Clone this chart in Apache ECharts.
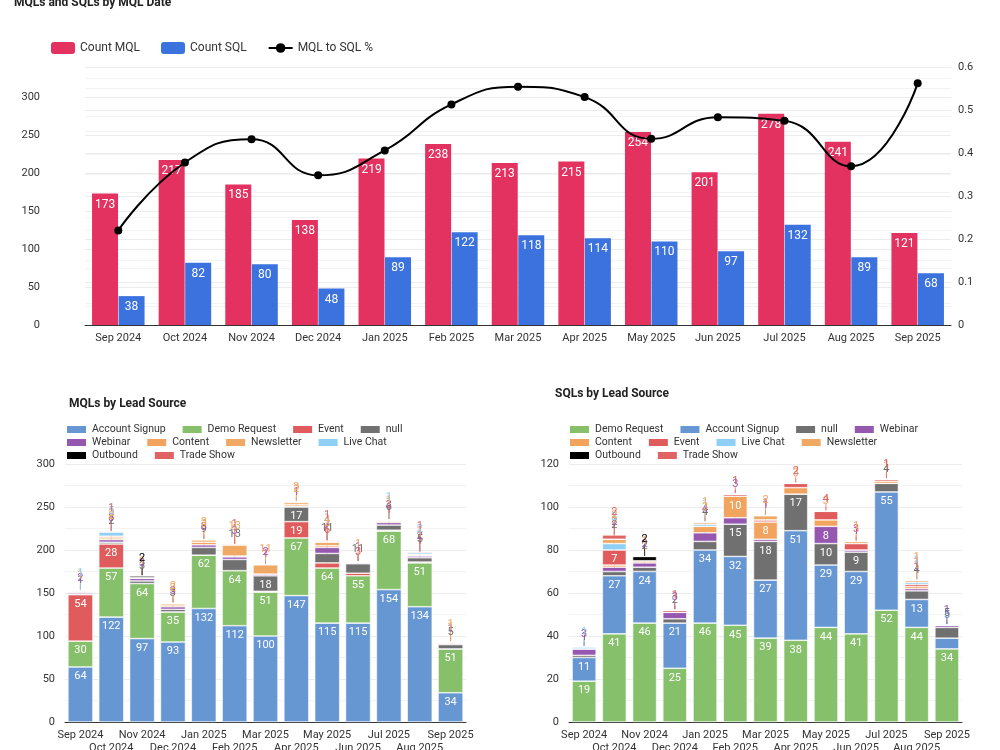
<!DOCTYPE html>
<html>
<head>
<meta charset="utf-8">
<script src="https://cdn.jsdelivr.net/npm/echarts@6/dist/echarts.min.js"></script>
<style>
  html, body { margin: 0; padding: 0; background: #fff; }
  #chart { width: 1000px; height: 750px; }
</style>
</head>
<body>
<div id="chart"></div>
<script>
// 月份
const months = ['Sep 2024', 'Oct 2024', 'Nov 2024', 'Dec 2024', 'Jan 2025', 'Feb 2025', 'Mar 2025',
  'Apr 2025', 'May 2025', 'Jun 2025', 'Jul 2025', 'Aug 2025', 'Sep 2025'];

// 上图
const countMql = [173, 217, 185, 138, 219, 238, 213, 215, 254, 201, 278, 241, 121];
const countSql = [38, 82, 80, 48, 89, 122, 118, 114, 110, 97, 132, 89, 68];
const mqlToSql = [0.22, 0.378, 0.432, 0.348, 0.406, 0.513, 0.554, 0.53, 0.433, 0.483, 0.475, 0.369, 0.562];

// 左下: MQLs by Lead Source
const mqlAccountSignup = [64, 122, 97, 93, 132, 112, 100, 147, 115, 115, 154, 134, 34];
const mqlDemoRequest = [30, 57, 64, 35, 62, 64, 51, 67, 64, 55, 68, 51, 51];
const mqlEvent = [54, 28, 0, 0, 0, 0, 1, 19, 6, 3, 1, 1, 0];
const mqlNull = [1, 2, 3, 3, 9, 13, 18, 17, 11, 11, 6, 5, 5];
const mqlWebinar = [2, 3, 3, 3, 3, 3, 2, 1, 7, 1, 3, 2, 1];
const mqlContent = [0, 2, 0, 2, 3, 1, 0, 2, 2, 1, 1, 1, 1];
const mqlNewsletter = [1, 2, 1, 2, 3, 13, 11, 3, 4, 0, 1, 1, 1];
const mqlLiveChat = [1, 5, 0, 0, 0, 0, 0, 0, 1, 0, 1, 2, 0];
const mqlOutbound = [0, 0, 2, 0, 0, 0, 0, 0, 0, 0, 0, 0, 0];
const mqlTradeShow = [0, 1, 0, 0, 0, 1, 0, 0, 1, 0, 0, 1, 0];

// 右下: SQLs by Lead Source
const sqlDemoRequest = [19, 41, 46, 25, 46, 45, 39, 38, 44, 41, 52, 44, 34];
const sqlAccountSignup = [11, 27, 24, 21, 34, 32, 27, 51, 29, 29, 55, 13, 5];
const sqlNull = [1, 2, 2, 2, 4, 15, 18, 17, 10, 9, 4, 4, 5];
const sqlWebinar = [3, 2, 2, 3, 4, 3, 1, 0, 8, 1, 0, 1, 1];
const sqlContent = [0, 1, 1, 0, 3, 10, 8, 3, 3, 0, 1, 1, 0];
const sqlEvent = [0, 7, 0, 1, 0, 1, 1, 2, 4, 3, 1, 1, 0];
const sqlLiveChat = [1, 3, 0, 0, 1, 0, 0, 0, 0, 0, 0, 1, 0];
const sqlNewsletter = [0, 2, 0, 0, 1, 0, 2, 0, 0, 1, 0, 1, 0];
const sqlOutbound = [0, 0, 2, 0, 0, 0, 0, 0, 0, 0, 0, 0, 0];
const sqlTradeShow = [0, 2, 0, 0, 0, 0, 0, 0, 0, 0, 0, 0, 0];

const colors = {
  'Account Signup': '#6797d3',
  'Demo Request': '#86c06b',
  'Event': '#e05c5c',
  'null': '#707070',
  'Webinar': '#9657b1',
  'Content': '#f2a35e',
  'Newsletter': '#f0a865',
  'Live Chat': '#8fcff5',
  'Outbound': '#000000',
  'Trade Show': '#e06464'
};

const mqlSources = [
  ['Account Signup', mqlAccountSignup], ['Demo Request', mqlDemoRequest], ['Event', mqlEvent],
  ['null', mqlNull], ['Webinar', mqlWebinar], ['Content', mqlContent], ['Newsletter', mqlNewsletter],
  ['Live Chat', mqlLiveChat], ['Outbound', mqlOutbound], ['Trade Show', mqlTradeShow]
];
const sqlSources = [
  ['Demo Request', sqlDemoRequest], ['Account Signup', sqlAccountSignup], ['null', sqlNull],
  ['Webinar', sqlWebinar], ['Content', sqlContent], ['Event', sqlEvent], ['Live Chat', sqlLiveChat],
  ['Newsletter', sqlNewsletter], ['Outbound', sqlOutbound], ['Trade Show', sqlTradeShow]
];

const font = 'Roboto, "Noto Sans", sans-serif';
const gridColor = '#ececec';

const chart = echarts.init(document.getElementById('chart'));

// x 轴下标 axisIdx, y 轴下标 axisIdx + 1 (上图有两个 y 轴)
// 小数值的标签放到柱子上方, 带引导线
function stackSeries(list, axisIdx, stack, minShow, barWidth) {
  const totals = months.map((m, i) => list.reduce((s, item) => s + item[1][i], 0));
  return list.map(([name, data], srcIdx) => {
    const isSmall = v => v > 0 && v < minShow;
    const rank = months.map((m, i) =>
      list.slice(0, srcIdx).filter(item => isSmall(item[1][i])).length);
    return {
      name: name,
      type: 'bar',
      stack: stack,
      xAxisIndex: axisIdx,
      yAxisIndex: axisIdx + 1,
      barWidth: barWidth,
      data: data.map(v => isSmall(v) ? {
        value: v,
        label: { color: colors[name] },
        labelLine: { show: true, lineStyle: { color: colors[name], width: 1, opacity: 0.7 } }
      } : v),
      itemStyle: { color: colors[name], borderColor: '#fff', borderWidth: 0.6 },
      label: {
        show: true,
        position: 'insideTop',
        distance: 4,
        color: '#fff',
        fontSize: 11,
        fontFamily: font,
        formatter: p => (p.value > 0 ? p.value : '')
      },
      labelLayout: function (p) {
        const v = data[p.dataIndex];
        if (!isSmall(v)) return {};
        const top = chart.convertToPixel({ xAxisIndex: axisIdx, yAxisIndex: axisIdx + 1 },
          [p.dataIndex, totals[p.dataIndex]]);
        const cx = p.rect.x + p.rect.width / 2;
        const ly = top[1] - 10 - rank[p.dataIndex] * 2.5;
        const sy = p.rect.y + p.rect.height / 2;
        return {
          x: cx,
          y: ly,
          align: 'center',
          verticalAlign: 'middle',
          labelLinePoints: [[cx, ly + 5], [cx, sy], [cx, sy]]
        };
      }
    };
  });
}

function bottomXAxis(gridIndex) {
  return {
    type: 'category',
    gridIndex: gridIndex,
    data: months,
    axisLine: { lineStyle: { color: '#333', width: 1 } },
    axisTick: { show: false },
    axisLabel: {
      interval: 0,
      color: '#333',
      fontSize: 11,
      fontFamily: font,
      margin: 7,
      lineHeight: 13,
      formatter: (v, i) => (i % 2 ? '\n' + v : v)
    }
  };
}

function smallLegend(data, left, top) {
  return {
    data: data,
    left: left,
    top: top,
    itemWidth: 21,
    itemHeight: 9,
    itemGap: 15,
    icon: 'rect',
    padding: 0,
    textStyle: { fontSize: 10.5, color: '#333', fontFamily: font }
  };
}

const option = {
  animation: false,
  textStyle: { fontFamily: font },
  title: [
    { text: 'MQLs and SQLs by MQL Date', left: 14, top: -3, padding: 0,
      textStyle: { fontSize: 12, fontWeight: 'bold', color: '#222', fontFamily: font } },
    { text: 'MQLs by Lead Source', left: 69, top: 398, padding: 0,
      textStyle: { fontSize: 12, fontWeight: 'bold', color: '#222', fontFamily: font } },
    { text: 'SQLs by Lead Source', left: 555, top: 388, padding: 0,
      textStyle: { fontSize: 12, fontWeight: 'bold', color: '#222', fontFamily: font } }
  ],
  legend: [
    {
      data: ['Count MQL', 'Count SQL', 'MQL to SQL %'],
      left: 51, top: 42, padding: 0,
      itemWidth: 24, itemHeight: 12, itemGap: 21,
      textStyle: { fontSize: 12, color: '#333', fontFamily: font }
    },
    smallLegend(['Account Signup', 'Demo Request', 'Event', 'null'], 65, 424),
    smallLegend(['Webinar', 'Content', 'Newsletter', 'Live Chat'], 65, 437),
    smallLegend(['Outbound', 'Trade Show'], 65, 450),
    smallLegend(['Demo Request', 'Account Signup', 'null', 'Webinar'], 568, 424),
    smallLegend(['Content', 'Event', 'Live Chat', 'Newsletter'], 568, 437),
    smallLegend(['Outbound', 'Trade Show'], 568, 450)
  ],
  grid: [
    { left: 85, right: 49, top: 67, height: 258, outerBoundsMode: 'none' },
    { left: 65, width: 401, top: 464, height: 258, outerBoundsMode: 'none' },
    { left: 569, width: 393, top: 464, height: 258, outerBoundsMode: 'none' }
  ],
  xAxis: [
    {
      type: 'category',
      gridIndex: 0,
      data: months,
      axisLine: { lineStyle: { color: '#333', width: 1 } },
      axisTick: { show: false },
      axisLabel: { interval: 0, color: '#333', fontSize: 11, fontFamily: font, margin: 8 }
    },
    bottomXAxis(1),
    bottomXAxis(2)
  ],
  yAxis: [
    {
      type: 'value',
      gridIndex: 0,
      min: 0,
      max: 300 * 258 / 228,
      interval: 50,
      axisLabel: { color: '#333', fontSize: 11, fontFamily: font, margin: 45, showMaxLabel: false },
      axisLine: { show: false },
      splitLine: { lineStyle: { color: gridColor } },
      minorTick: { show: false, splitNumber: 2 },
      minorSplitLine: { show: true, lineStyle: { color: '#f3f3f3' } }
    },
    {
      type: 'value',
      gridIndex: 0,
      position: 'right',
      min: 0,
      max: 0.6,
      interval: 0.1,
      axisLabel: { color: '#333', fontSize: 11, fontFamily: font, margin: 7 },
      axisLine: { show: false },
      splitLine: { lineStyle: { color: gridColor } },
      minorTick: { show: false, splitNumber: 2 },
      minorSplitLine: { show: true, lineStyle: { color: '#f3f3f3' } }
    },
    {
      type: 'value',
      gridIndex: 1,
      min: 0,
      max: 300,
      interval: 50,
      axisLabel: { color: '#333', fontSize: 11, fontFamily: font, margin: 10 },
      axisLine: { show: false },
      splitLine: { lineStyle: { color: gridColor } },
      minorTick: { show: false, splitNumber: 2 },
      minorSplitLine: { show: true, lineStyle: { color: '#f3f3f3' } }
    },
    {
      type: 'value',
      gridIndex: 2,
      min: 0,
      max: 120,
      interval: 20,
      axisLabel: { color: '#333', fontSize: 11, fontFamily: font, margin: 10 },
      axisLine: { show: false },
      splitLine: { lineStyle: { color: gridColor } },
      minorTick: { show: false, splitNumber: 2 },
      minorSplitLine: { show: true, lineStyle: { color: '#f3f3f3' } }
    }
  ],
  series: [
    {
      name: 'Count MQL',
      type: 'bar',
      xAxisIndex: 0,
      yAxisIndex: 0,
      barWidth: 26,
      barGap: '2%',
      data: countMql,
      itemStyle: { color: '#e3325f' },
      label: { show: true, position: 'insideTop', distance: 5, color: '#fff', fontSize: 12, fontFamily: font }
    },
    {
      name: 'Count SQL',
      type: 'bar',
      xAxisIndex: 0,
      yAxisIndex: 0,
      barWidth: 26,
      data: countSql,
      itemStyle: { color: '#3b72de' },
      label: { show: true, position: 'insideTop', distance: 5, color: '#fff', fontSize: 12, fontFamily: font }
    },
    {
      name: 'MQL to SQL %',
      type: 'line',
      xAxisIndex: 0,
      yAxisIndex: 1,
      data: mqlToSql,
      smooth: true,
      symbol: 'circle',
      symbolSize: 8,
      itemStyle: { color: '#000' },
      lineStyle: { color: '#000', width: 2 },
      z: 5
    }
  ].concat(stackSeries(mqlSources, 1, 'mql', 15, 25))
   .concat(stackSeries(sqlSources, 2, 'sql', 7, 24))
};

chart.setOption(option);
</script>
</body>
</html>
